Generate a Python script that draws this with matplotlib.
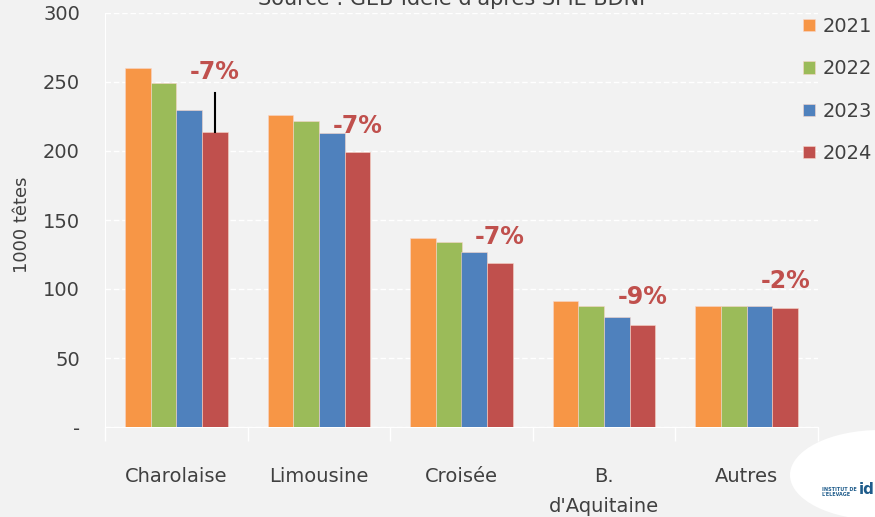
import numpy as np
import matplotlib.pyplot as plt
from matplotlib.patches import Ellipse

# données (1000 têtes)
races = ["Charolaise", "Limousine", "Croisée", "B.\nd'Aquitaine", "Autres"]
annees = ["2021", "2022", "2023", "2024"]
v2021 = [260, 226, 137, 91, 88]
v2022 = [249, 222, 134, 88, 88]
v2023 = [230, 213, 127, 80, 88]
v2024 = [214, 199, 119, 74, 86]
evolutions = ["-7%", "-7%", "-7%", "-9%", "-2%"]
pos_etiquettes = [257, 218, 138, 94, 106]

couleurs = ["#F79646", "#9BBB59", "#4F81BD", "#C0504D"]
gris = "#404040"
fond = "#F2F2F2"

plt.rcParams['font.family'] = ['DejaVu Sans']

fig = plt.figure(figsize=(8.75, 5.17), dpi=100, facecolor=fond)
ax = fig.add_axes([105/875, 1-427/517, (818-105)/875, (427-13)/517])
ax.set_facecolor(fond)

x = np.arange(len(races))
largeur = 0.18
series = [v2021, v2022, v2023, v2024]
for k, (vals, c, an) in enumerate(zip(series, couleurs, annees)):
    ax.bar(x + (k - 1.5)*largeur, vals, largeur, color=c, label=an,
           edgecolor="#F8D5C8", linewidth=0.4, zorder=3)

# trait noir au-dessus de Charolaise 2024
ax.plot([x[0] + 1.5*largeur]*2, [v2024[0], 242], color="black", lw=1.5, zorder=4)

for i, (txt, y) in enumerate(zip(evolutions, pos_etiquettes)):
    ax.text(x[i] + 0.27, y, txt, color="#C0504D", fontsize=17, fontweight="bold",
            ha="center", va="center", zorder=5)

ax.set_ylim(0, 300)
ax.set_xlim(-0.5, len(races) - 0.5)
ax.set_yticks(range(0, 301, 50))
ax.set_yticklabels(["-"] + [str(v) for v in range(50, 301, 50)])
ax.set_xticks(x)
ax.set_xticklabels(races, linespacing=1.7)
ax.set_xticks(np.arange(len(races) + 1) - 0.5, minor=True)
ax.tick_params(axis="y", length=0, pad=18, labelsize=14, labelcolor=gris)
ax.tick_params(axis="x", which="major", length=0, pad=29, labelsize=14, labelcolor=gris)
ax.tick_params(axis="x", which="minor", length=10, color="white", width=1)
ax.grid(axis="y", color="white", linestyle=(0, (4, 2)), lw=1, zorder=0)
for s in ["top", "right"]:
    ax.spines[s].set_visible(False)
ax.spines["left"].set_color("white")
ax.spines["bottom"].set_color("white")

fig.text(22/875, 1-225/517, "1000 têtes", rotation=90, ha="center", va="center",
         fontsize=13, color=gris)

fig.text(452/875, 1-5/517, "Source : GEB-Idele d'après SPIE BDNI", ha="center",
         va="baseline", fontsize=15, color=gris)

ax.legend(loc="upper left", bbox_to_anchor=(803/875, 1-17/517), bbox_transform=fig.transFigure,
          frameon=False, fontsize=14, labelspacing=1.2, handlelength=0.6,
          handleheight=0.6, handletextpad=0.4, labelcolor=gris,
          borderpad=0, borderaxespad=0)

# logo
fig.patches.append(Ellipse((880/875, 1-475/517), 180/875, 90/517, transform=fig.transFigure,
                           facecolor="white", edgecolor="none", zorder=1))
fig.text(822/875, 1-492/517, "INSTITUT DE\nL'ELEVAGE", fontsize=3.5, color="#1F5C8B",
         fontweight="bold", va="center", ha="left")
fig.text(859/875, 1-490/517, "id", fontsize=11, color="#1F5C8B", fontweight="bold",
         va="center", ha="left")

fig.savefig("out.png", dpi=100, facecolor=fond)
